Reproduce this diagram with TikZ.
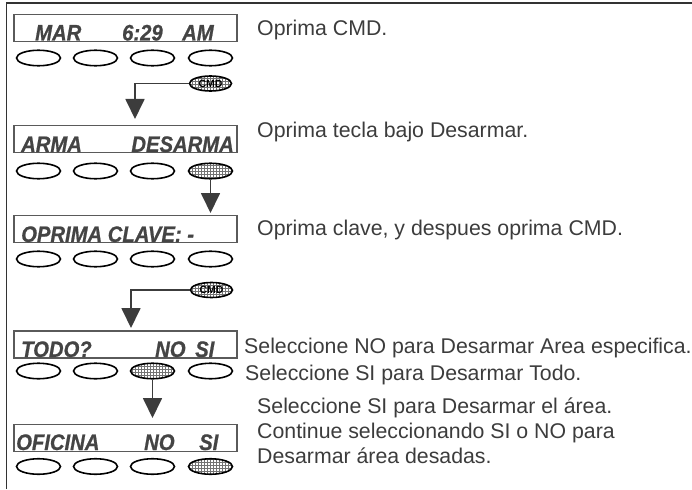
\documentclass[tikz,border=0pt]{standalone}
\usepackage{fontspec}
\setmainfont{Liberation Sans}
\newfontfamily\lcdfont[FakeStretch=0.9,FakeBold=0.8]{Liberation Sans}
\usepackage{tikz}
\usetikzlibrary{arrows.meta,shapes.geometric,patterns}
\definecolor{ink}{HTML}{3C3C3C}
\definecolor{lcdink}{HTML}{444444}
\definecolor{rim}{HTML}{5A5A5A}
\definecolor{edge}{HTML}{333333}
\tikzset{
  frame/.style={draw=edge, line width=1.8pt},
  lcd/.style={draw=rim, line width=1.2pt, minimum width=223pt, minimum height=27pt, inner sep=0pt},
  lcdtxt/.style={font=\lcdfont\bfseries\itshape\fontsize{22.5}{23}\selectfont, text=lcdink, anchor=base west, inner sep=0pt},
  key/.style={ellipse, draw=black, line width=1.6pt, minimum width=44pt, minimum height=15.5pt, inner sep=0pt},
  keyon/.style={key, pattern=grid, pattern color=black!55},
  cmdkey/.style={keyon, minimum width=42pt, minimum height=15pt, font=\bfseries\fontsize{10.5}{11}\selectfont, text=black},
  flow/.style={draw=ink, line width=1.8pt, -{Triangle[width=19pt,length=20pt]}},
  note/.style={font=\fontsize{21.3}{25}\selectfont, text=ink, anchor=base west, inner sep=0pt}
}
\begin{document}
\begin{tikzpicture}[x=1pt, y=-1pt]
  \useasboundingbox (0,0) rectangle (692,489);
  \draw[frame] (6.5,489) -- (6.5,3) -- (692,3);

  % displays
  \node[lcd] (d1) at (125.5,28) {};
  \node[lcd] (d2) at (125.5,139) {};
  \node[lcd] (d3) at (125.5,229) {};
  \node[lcd] (d4) at (125.5,344.5) {};
  \node[lcd] (d5) at (125.5,438) {};

  \node[lcdtxt] (d1a) at (35,40.5) {MAR};
  \node[lcdtxt] (d1b) at (122,40.5) {6:29};
  \node[lcdtxt] (d1c) at (182,40.5) {AM};
  \node[lcdtxt] (d2a) at (21,152) {ARMA};
  \node[lcdtxt, anchor=base east] (d2b) at (234,152) {DESARMA};
  \node[lcdtxt] (d3a) at (21,242) {OPRIMA CLAVE: -};
  \node[lcdtxt] (d4a) at (21,357) {TODO?};
  \node[lcdtxt] (d4b) at (155,357) {NO};
  \node[lcdtxt] (d4c) at (195,357) {SI};
  \node[lcdtxt] (d5a) at (16,450) {OFICINA};
  \node[lcdtxt] (d5b) at (144,450) {NO};
  \node[lcdtxt] (d5c) at (199,450) {SI};

  % keys under each display
  \foreach \x/\s [count=\i] in {38.5/key,95.5/key,152.5/key,210.5/key}
    \node[\s] (k1\i) at (\x,58) {};
  \foreach \x/\s [count=\i] in {38.5/key,95.5/key,152.5/key,210.5/keyon}
    \node[\s] (k2\i) at (\x,171) {};
  \foreach \x/\s [count=\i] in {38.5/key,95.5/key,152.5/key,210.5/key}
    \node[\s] (k3\i) at (\x,259) {};
  \foreach \x/\s [count=\i] in {38.5/key,95.5/key,152.5/keyon,210.5/key}
    \node[\s] (k4\i) at (\x,371) {};
  \foreach \x/\s [count=\i] in {38.5/key,95.5/key,152.5/key,210.5/keyon}
    \node[\s] (k5\i) at (\x,466.5) {};

  \node[cmdkey] (cmd1) at (210.5,83.5) {CMD};
  \node[cmdkey] (cmd2) at (211.5,290) {CMD};

  \coordinate (t1) at (135,119);
  \coordinate (t2) at (210.5,213);
  \coordinate (t3) at (131,328);
  \coordinate (t4) at (152.5,418);
  \draw[flow] (cmd1.west) -| (t1);
  \draw[flow] (k24.south) -- (t2);
  \draw[flow] (cmd2.west) -| (t3);
  \draw[flow] (k43.south) -- (t4);

  % instructions
  \node[note] (n1) at (257,36) {Oprima CMD.};
  \node[note] (n2) at (257,138) {Oprima tecla bajo Desarmar.};
  \node[note] (n3) at (257,235) {Oprima clave, y despues oprima CMD.};
  \node[note] (n4) at (244,353) {Seleccione NO para Desarmar Area especifica.};
  \node[note] (n5) at (245,380) {Seleccione SI para Desarmar Todo.};
  \node[note] (n6) at (257,413) {Seleccione SI para Desarmar el área.};
  \node[note] (n7) at (257,438) {Continue seleccionando SI o NO para};
  \node[note] (n8) at (257,463) {Desarmar área desadas.};
\end{tikzpicture}
\end{document}
